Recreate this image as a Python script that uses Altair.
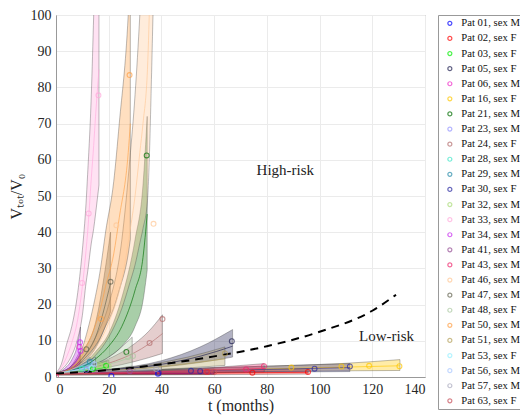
import altair as alt
import pandas as pd

FONT = "Liberation Serif"

PATIENTS = ["Pat 01, sex M", "Pat 02, sex F", "Pat 03, sex F", "Pat 05, sex F", "Pat 06, sex M",
            "Pat 16, sex F", "Pat 21, sex M", "Pat 23, sex M", "Pat 24, sex F", "Pat 28, sex M",
            "Pat 29, sex M", "Pat 30, sex F", "Pat 32, sex M", "Pat 33, sex M", "Pat 34, sex M",
            "Pat 41, sex M", "Pat 43, sex M", "Pat 46, sex M", "Pat 47, sex M", "Pat 48, sex F",
            "Pat 50, sex M", "Pat 51, sex M", "Pat 53, sex F", "Pat 56, sex M", "Pat 57, sex M",
            "Pat 63, sex F"]
COLORS = ["#0000ff", "#ff0000", "#00ee00", "#1e1e50", "#f028c8",
          "#ffc800", "#006e00", "#9696ff", "#b46e6e", "#3ce6c8",
          "#288caa", "#2828a0", "#aadc78", "#ffaadc", "#c828f0",
          "#965096", "#f0286e", "#ffc896", "#646450", "#aac8a0",
          "#ffa046", "#b4a05a", "#96f0ff", "#aac8ff", "#aaaabe",
          "#c8505a"]

# bands: (t, lower, middle, upper)
BAND_01 = [(0, 0.8, 1.0, 1.2), (30, 0.7, 1.0, 1.4), (60, 0.7, 1.1, 1.7)]
BAND_02 = [(0, 0.5, 0.9, 1.3), (30, 0.55, 1.0, 1.6), (60, 0.65, 1.1, 1.9), (95.7, 0.8, 1.3, 2.3)]
BAND_03 = [(0, 1, 1, 1), (10, 1.2, 1.6, 2.2), (19.4, 1.6, 2.8, 4.5)]
BAND_05 = [(0, 1, 1, 1), (20, 1.66, 1.9, 2.1), (40, 2.76, 3.5, 4.5), (55, 4.05, 5.8, 8.4), (67, 5.5, 8.5, 13.1)]
BAND_06 = [(0, 1, 1, 1), (5, 1.4, 1.8, 2.5), (9, 2.5, 4, 7)]
BAND_16 = [(0, 0.9, 1.0, 1.1), (40, 1.2, 1.6, 2.1), (80, 1.5, 2.2, 3.0), (108, 1.7, 2.7, 3.7), (130.5, 1.8, 3.1, 4.8)]
BAND_21 = [(0, 1, 1, 1), (5, 1.5, 1.7, 2), (10, 2.2, 2.8, 3.5), (15, 3.5, 5, 7), (20, 5.5, 8.5, 12),
           (25, 8.5, 14, 22), (30, 14, 24, 38), (33, 21, 33, 53), (34.6, 29.5, 45, 72)]
BAND_23 = [(0, 1, 1, 1), (6, 1.2, 1.5, 1.9), (12, 1.5, 2.2, 3.2)]
BAND_24 = [(0, 1, 1, 1), (10, 1.6, 2, 2.5), (20, 2.7, 3.8, 5), (30, 4.3, 6.8, 9.3), (35, 5.3, 9, 12.5),
           (40.4, 6.5, 12, 17.2)]
BAND_28 = [(0, 1, 1, 1), (7, 1.2, 1.6, 2.3), (14, 1.6, 2.6, 4)]
BAND_29 = [(0, 1, 1, 1), (7, 1.6, 2.2, 3), (13, 2.5, 3.8, 5.5)]
BAND_30 = [(0, 0.9, 1, 1.1), (40, 1.15, 1.6, 2.1), (80, 1.35, 2.1, 3.0), (111.5, 1.5, 2.6, 3.7)]
BAND_32 = [(0, 1, 1, 1), (10, 1.3, 1.8, 2.5), (20, 1.9, 3, 4.6)]
BAND_33 = [(0, 1, 1.1, 1.2), (2, 2, 2.6, 3.5), (4, 3.5, 5.5, 9), (6, 6, 9.5, 14), (8, 10, 15, 22),
           (10, 17, 25, 35), (11.4, 26, 35, 48), (12, 29, 40, 56), (13.4, 37, 55, 78), (14.3, 41, 64, 100),
           (15, 45, 72, 118), (16.3, 53, 85, 160)]
BAND_34 = [(0, 1, 1, 1), (3, 1.3, 1.6, 2.2), (6, 2, 3, 4.8), (8, 2.9, 4.8, 8.5), (9.3, 4, 6.5, 13.8)]
BAND_41 = [(0, 1, 1, 1), (15, 1.1, 1.4, 1.8), (30, 1.2, 1.8, 2.6)]
BAND_43 = [(0, 0.8, 1, 1.1), (30, 1, 1.3, 1.6), (55, 1.2, 1.8, 2.4), (79, 1.4, 2.4, 3.7)]
BAND_46 = [(0, 1, 1, 1), (5, 1.6, 1.8, 2), (10, 3, 3.9, 5), (15, 6, 8, 11), (20, 11, 15, 20), (25, 19, 27, 38),
           (28, 26, 40, 60), (30, 31, 50, 78), (31.8, 37, 62, 100), (33, 41, 70, 118), (34.7, 48.7, 85, 150),
           (36.8, 100, 140, 200), (37, 106, 145, 210)]
BAND_47 = [(0, 1, 1, 1), (5, 1.8, 2.1, 2.5), (10, 4, 5.2, 7), (15, 8, 11, 15), (20.7, 18, 26, 40)]
BAND_48 = [(0, 1, 1, 1), (10, 1.3, 1.8, 2.5), (20, 2, 3.5, 5.5), (28.9, 3, 5.5, 11)]
BAND_50 = [(0, 1, 1.1, 1.2), (5, 1.8, 2.1, 2.5), (10, 4.5, 6, 8), (12, 6, 9, 13), (14.3, 8, 13, 20),
           (16.9, 11, 19, 30), (18.8, 14, 25, 40), (21.9, 19, 34, 54), (24, 24, 44, 70), (27.4, 34, 62, 100),
           (28.2, 38, 70, 112)]
BAND_51 = [(0, 1, 1, 1), (20, 1.4, 1.7, 1.9), (36, 1.9, 2.6, 3.5), (50, 2.5, 3.7, 5.5), (64.1, 3.2, 5, 8.3)]
BAND_53 = [(0, 1, 1, 1), (7, 1.3, 1.8, 2.5), (14, 1.8, 2.8, 5)]
BAND_56 = [(0, 1, 1, 1), (8, 1.3, 2, 3), (15, 1.8, 3.2, 5.5)]
BAND_57 = [(0, 1, 1, 1), (20, 1.2, 1.6, 2.1), (40, 1.4, 2.1, 3.2)]
BAND_63 = [(0, 0.6, 0.9, 1.2), (30, 0.7, 1.1, 1.6), (60, 0.9, 1.3, 2.2)]

# observations: (t, V/V0)
PTS_01 = [(21, 0.3), (38.7, 0.9)]
PTS_02 = [(57.3, 1.4), (74.5, 1.2), (95.6, 1.4)]
PTS_03 = [(14, 2.2), (19, 3.1)]
PTS_05 = [(66.7, 9.9)]
PTS_06 = [(8.9, 8.3)]
PTS_16 = [(89.3, 2.6), (108.3, 2.9), (118.8, 3.1), (130.3, 3.0)]
PTS_21 = [(26.7, 6.9), (34.4, 61.2)]
PTS_23 = [(11.5, 2.0)]
PTS_24 = [(35.5, 9.4), (40.4, 16.0)]
PTS_28 = [(9.9, 2.3)]
PTS_29 = [(12.8, 4.2)]
PTS_30 = [(39, 1.1), (51.2, 1.7), (54.7, 1.6), (98.1, 2.3), (111.5, 2.9)]
PTS_32 = [(16.5, 3.3), (20, 3.0)]
PTS_33 = [(9.9, 26), (12.4, 45.2), (16.1, 77.8)]
PTS_34 = [(9.1, 9.6), (9.3, 7.2)]
PTS_41 = [(28, 1.6)]
PTS_43 = [(0, 0.1), (72.1, 2.1), (78.9, 3.0)]
PTS_46 = [(22.9, 41.9), (37, 42.3)]
PTS_47 = [(11.5, 7.7), (20.7, 26.3)]
PTS_48 = [(27.3, 5.5), (29.2, 5.8)]
PTS_50 = [(17.1, 16.0), (27.9, 83.4)]
PTS_51 = [(64.1, 6.5)]
PTS_53 = [(13.5, 2.5)]
PTS_56 = [(14.5, 3.5)]
PTS_57 = [(38, 2.2)]
PTS_63 = [(57.3, 1.4), (60, 1.4)]

DASH_T = [0, 20, 40, 60, 80, 100, 120, 129]
DASH_V = [1, 1.9, 3.5, 5.7, 8.5, 12.5, 18.3, 22.7]

LABELS = ["High-risk", "Low-risk"]
LABEL_T = [87, 125.4]
LABEL_V = [57.1, 11.3]

X_TICKS = [0, 20, 40, 60, 80, 100, 120, 140]
Y_TICKS = [0, 10, 20, 30, 40, 50, 60, 70, 80, 90, 100]

BANDS = [BAND_01, BAND_02, BAND_03, BAND_05, BAND_06, BAND_16, BAND_21, BAND_23, BAND_24, BAND_28,
         BAND_29, BAND_30, BAND_32, BAND_33, BAND_34, BAND_41, BAND_43, BAND_46, BAND_47, BAND_48,
         BAND_50, BAND_51, BAND_53, BAND_56, BAND_57, BAND_63]
PTS = [PTS_01, PTS_02, PTS_03, PTS_05, PTS_06, PTS_16, PTS_21, PTS_23, PTS_24, PTS_28,
       PTS_29, PTS_30, PTS_32, PTS_33, PTS_34, PTS_41, PTS_43, PTS_46, PTS_47, PTS_48,
       PTS_50, PTS_51, PTS_53, PTS_56, PTS_57, PTS_63]

band_rows, pt_rows = [], []
for i, name in enumerate(PATIENTS):
    for (t, lo, mid, hi) in BANDS[i]:
        band_rows.append({"pat": name, "col": COLORS[i], "order": i, "t": t, "lo": lo, "mid": mid, "hi": hi})
    for (t, v) in PTS[i]:
        pt_rows.append({"patient": name, "t": t, "v": v})
band_df = pd.DataFrame(band_rows)
pt_df = pd.DataFrame(pt_rows)
dash_df = pd.DataFrame({"t": DASH_T, "v": DASH_V})
lab_df = pd.DataFrame({"t": LABEL_T, "v": LABEL_V, "txt": LABELS})

xs = alt.Scale(domain=[0, 140], nice=False)
ys = alt.Scale(domain=[0, 100], nice=False)
XT = "t (months)"
YT = "Vₜₒₜ/V₀"


def X(f):
    return alt.X(f, type="quantitative", scale=xs, title=XT, axis=alt.Axis(values=X_TICKS))


def Y(f):
    return alt.Y(f, type="quantitative", scale=ys, title=YT, axis=alt.Axis(values=Y_TICKS))


areas = alt.Chart(band_df).mark_area(
    clip=True, interpolate="monotone", fillOpacity=0.34, stroke="#444444", strokeWidth=0.6, strokeOpacity=0.6
).encode(
    x=X("t"), y=Y("lo"), y2="hi",
    detail="pat:N",
    fill=alt.Fill("col:N", scale=None),
    order=alt.Order("order:Q"),
)

lines = alt.Chart(band_df).mark_line(clip=True, interpolate="monotone", strokeWidth=0.8, opacity=0.8).encode(
    x=X("t"), y=Y("mid"),
    detail="pat:N",
    stroke=alt.Stroke("col:N", scale=None),
)

dash = alt.Chart(dash_df).mark_line(color="black", strokeDash=[8, 6], strokeWidth=2, interpolate="monotone").encode(
    x=X("t"), y=Y("v")
)

points = alt.Chart(pt_df).mark_point(shape="circle", filled=False, size=24, strokeWidth=1.1, clip=True).encode(
    x=X("t"), y=Y("v"),
    color=alt.Color("patient:N", scale=alt.Scale(domain=PATIENTS, range=COLORS),
                    legend=alt.Legend(title=None, orient="none", legendX=382, legendY=0,
                                      symbolType="circle", symbolSize=16, symbolStrokeWidth=1.2,
                                      labelFontSize=10.7, labelColor="#111", labelLimit=200,
                                      strokeColor="#999999", fillColor="white", padding=3,
                                      rowPadding=3.1, symbolOffset=3.5, labelOffset=6, symbolLimit=40)),
)

texts = alt.Chart(lab_df).mark_text(fontSize=15, color="#222222").encode(
    x=X("t"), y=Y("v"), text="txt:N"
)

chart = alt.layer(areas, lines, dash, points, texts).properties(
    width=369, height=362,
    autosize=alt.AutoSizeParams(type="none"),
    padding={"left": 48, "top": 7, "right": 95, "bottom": 39},
).configure(
    font=FONT
).configure_axis(
    labelFont=FONT, titleFont=FONT, labelFontSize=14, titleFontSize=16, titleFontWeight="normal",
    labelColor="#262626", titleColor="#262626", gridColor="#ebebeb", domainColor="#999999",
    ticks=False, labelPadding=5,
).configure_axisX(titlePadding=1).configure_axisY(titlePadding=6).configure_legend(
    labelFont=FONT
).configure_view(
    stroke="#999999", strokeWidth=1
)

chart.save("out.html", embed_options={"renderer": "svg", "actions": False})
